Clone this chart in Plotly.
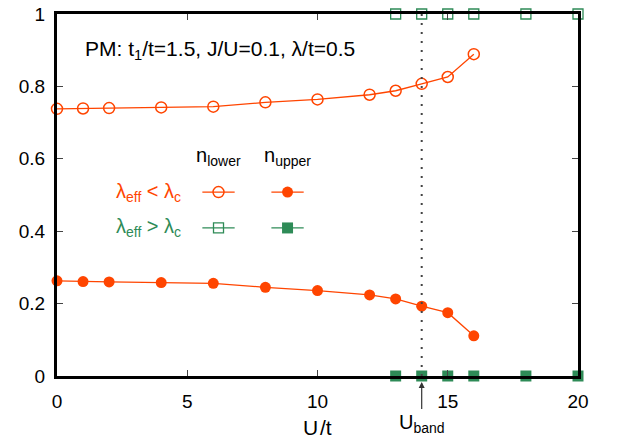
import plotly.graph_objects as go

U = [0, 1, 2, 4, 6, 8, 10, 12, 13, 14, 15, 16]
n_lower = [0.738, 0.739, 0.740, 0.742, 0.744, 0.756, 0.764, 0.777, 0.788, 0.807, 0.826, 0.889]
n_upper = [0.263, 0.261, 0.260, 0.258, 0.256, 0.245, 0.236, 0.224, 0.213, 0.193, 0.175, 0.111]
U_big = [13, 14, 15, 16, 18, 20]
n_lower_big = [1, 1, 1, 1, 1, 1]
n_upper_big = [0, 0, 0, 0, 0, 0]
U_band = 14
x_ticks = [0, 5, 10, 15, 20]
y_ticks = [0, 0.2, 0.4, 0.6, 0.8, 1]
y_tick_text = ["0", "0.2", "0.4", "0.6", "0.8", "1"]

ORANGE = "#FF4500"
GREEN = "#2E8B57"
FONT = "Liberation Sans, Arial, sans-serif"

fig = go.Figure()

# dotted U_band line
fig.add_shape(type="line", x0=U_band, x1=U_band, y0=0, y1=1, xref="x", yref="y",
              line=dict(color="#444444", width=2, dash="2px,7px"))

fig.add_trace(go.Scatter(x=U, y=n_lower, mode="lines+markers",
                         line=dict(color=ORANGE, width=1.3),
                         marker=dict(symbol="circle-open", size=11, color=ORANGE, line=dict(width=1.5, color=ORANGE)),
                         cliponaxis=False, showlegend=False))
fig.add_trace(go.Scatter(x=U, y=n_upper, mode="lines+markers",
                         line=dict(color=ORANGE, width=1.3),
                         marker=dict(symbol="circle", size=11, color=ORANGE, line=dict(width=0)),
                         cliponaxis=False, showlegend=False))
fig.add_trace(go.Scatter(x=U_big, y=n_lower_big, mode="markers",
                         marker=dict(symbol="square-open", size=10, color=GREEN, line=dict(width=1.3, color=GREEN)),
                         cliponaxis=False, showlegend=False))
fig.add_trace(go.Scatter(x=U_big, y=n_upper_big, mode="markers",
                         marker=dict(symbol="square", size=11, color=GREEN, line=dict(width=0)),
                         cliponaxis=False, showlegend=False))

# custom legend table
leg_x = [6.2, 8.85]
leg_y = [0.508, 0.409]
half = 0.62
for yy, col, syms, sizes, lws in [(leg_y[0], ORANGE, ["circle-open", "circle"], [11, 11], [1.5, 0]),
                                  (leg_y[1], GREEN, ["square-open", "square"], [10, 11], [1.3, 0])]:
    for xx, s, sz, lw in zip(leg_x, syms, sizes, lws):
        fig.add_shape(type="line", x0=xx - half, x1=xx + half, y0=yy, y1=yy, xref="x", yref="y",
                      line=dict(color=col, width=1.3))
        fig.add_trace(go.Scatter(x=[xx], y=[yy], mode="markers",
                                 marker=dict(symbol=s, size=sz, color=col, line=dict(width=lw, color=col)),
                                 showlegend=False))

fig.add_annotation(x=leg_x[0], y=0.605, xref="x", yref="y", text="n<sub>lower</sub>",
                   showarrow=False, font=dict(size=20, color="black", family=FONT))
fig.add_annotation(x=leg_x[1], y=0.605, xref="x", yref="y", text="n<sub>upper</sub>",
                   showarrow=False, font=dict(size=20, color="black", family=FONT))
fig.add_annotation(x=4.85, y=leg_y[0], xref="x", yref="y", xanchor="right",
                   text="λ<sub>eff</sub> &lt; λ<sub>c</sub>",
                   showarrow=False, font=dict(size=20, color=ORANGE, family=FONT))
fig.add_annotation(x=4.85, y=leg_y[1], xref="x", yref="y", xanchor="right",
                   text="λ<sub>eff</sub> &gt; λ<sub>c</sub>",
                   showarrow=False, font=dict(size=20, color=GREEN, family=FONT))

fig.add_annotation(x=1.0, y=0.9, xref="x", yref="y", xanchor="left",
                   text="PM: t<sub>1</sub>/t=1.5, J/U=0.1, λ/t=0.5",
                   showarrow=False, font=dict(size=21, color="black", family=FONT))

fig.add_annotation(x=U_band, y=0, xref="x", yref="y", ax=0, ay=47, axref="pixel", ayref="pixel",
                   text="U<sub>band</sub>", showarrow=True, arrowhead=2, arrowsize=1, arrowwidth=1.2,
                   arrowcolor="#333333", standoff=6,
                   font=dict(size=20, color="black", family=FONT))

# x-axis title
fig.add_annotation(x=0.5, y=-0.141, xref="paper", yref="paper", yanchor="middle",
                   text="U&#8202;/t", showarrow=False,
                   font=dict(size=21, color="black", family=FONT))

fig.update_layout(
    width=618, height=439,
    margin=dict(l=57, r=40, t=14, b=63),
    paper_bgcolor="white", plot_bgcolor="white",
    font=dict(family=FONT, size=19, color="black"),
    xaxis=dict(range=[0, 20], tickvals=x_ticks, ticks="inside", ticklen=6, tickwidth=1.2,
               ticklabelstandoff=6, automargin=False,
               showline=True, linecolor="black", linewidth=3, mirror="ticks",
               showgrid=False, zeroline=False),
    yaxis=dict(range=[0, 1], tickvals=y_ticks, ticktext=y_tick_text, ticks="inside", ticklen=6,
               tickwidth=1.2, ticklabelstandoff=5, automargin=False,
               showline=True, linecolor="black", linewidth=3, mirror="ticks",
               showgrid=False, zeroline=False),
)

fig.write_html("out.html")
